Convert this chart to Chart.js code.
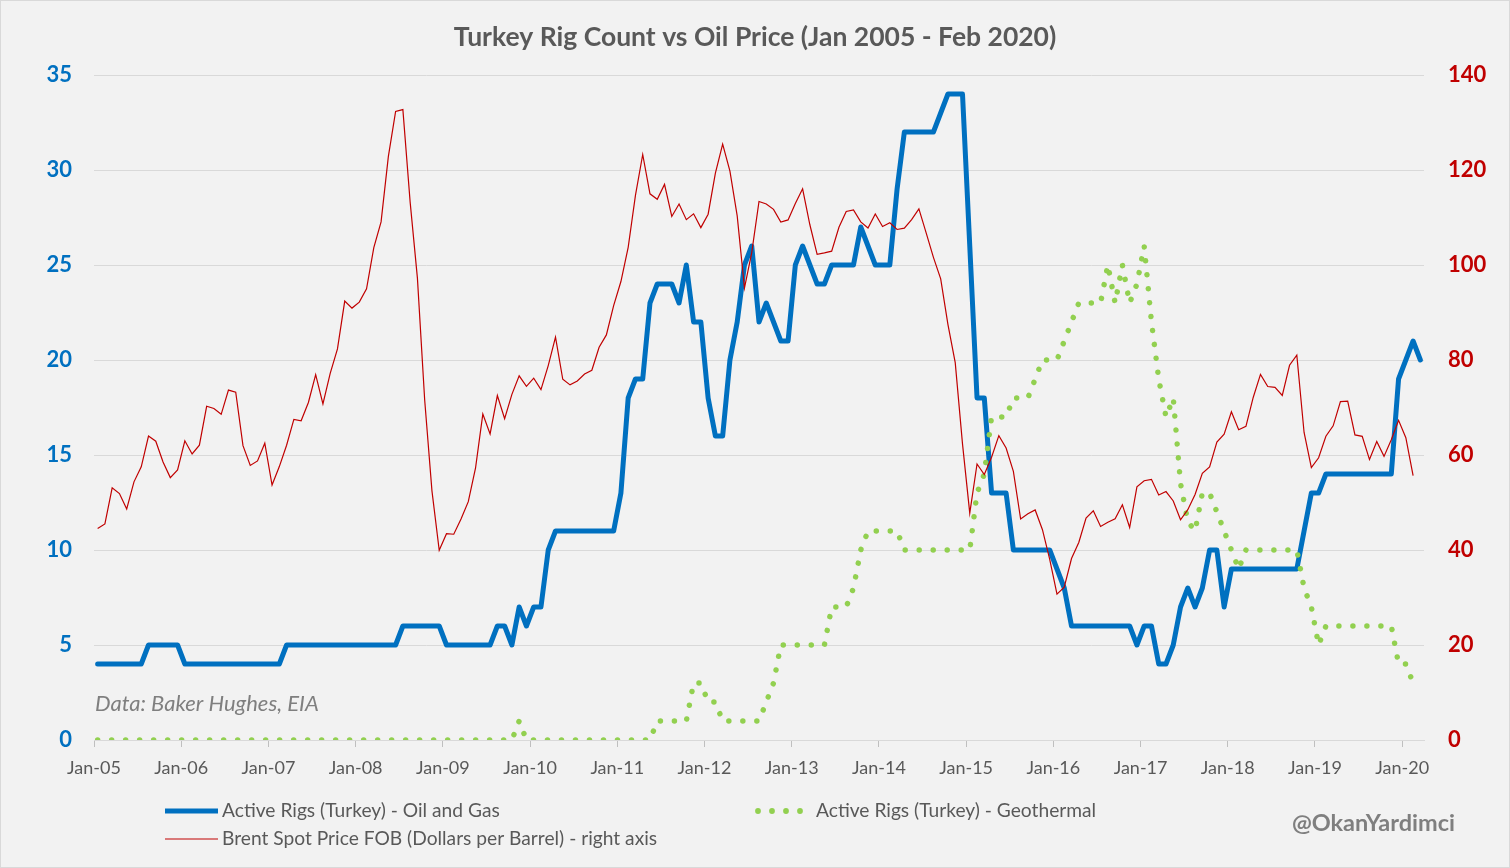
<!DOCTYPE html>
<html><head><meta charset="utf-8">
<script src="https://cdn.jsdelivr.net/npm/chart.js@4.4.0/dist/chart.umd.min.js"></script>
<style>
html,body{margin:0;padding:0;background:#F2F2F2;}
canvas{display:block;}
</style></head><body>
<canvas id="c" width="1510" height="868"></canvas>
<script>
const titleText = 'Turkey Rig Count vs Oil Price (Jan 2005 - Feb 2020)';
const yearLabels = ['Jan-05','Jan-06','Jan-07','Jan-08','Jan-09','Jan-10','Jan-11','Jan-12','Jan-13','Jan-14','Jan-15','Jan-16','Jan-17','Jan-18','Jan-19','Jan-20'];
const seriesNames = ['Active Rigs (Turkey) - Oil and Gas','Active Rigs (Turkey) - Geothermal','Brent Spot Price FOB (Dollars per Barrel) - right axis'];

// monthly, Jan 2005 onwards
const oilGasRigs = [
  4,4,4,4,4,4,4,5,5,5,5,5,
  4,4,4,4,4,4,4,4,4,4,4,4,
  4,4,5,5,5,5,5,5,5,5,5,5,
  5,5,5,5,5,5,6,6,6,6,6,6,
  5,5,5,5,5,5,5,6,6,5,7,6,
  7,7,10,11,11,11,11,11,11,11,11,11,
  13,18,19,19,23,24,24,24,23,25,22,22,
  18,16,16,20,22,25,26,22,23,22,21,21,
  25,26,25,24,24,25,25,25,25,27,26,25,
  25,25,29,32,32,32,32,32,33,34,34,34,
  26,18,18,13,13,13,10,10,10,10,10,10,
  9,8,6,6,6,6,6,6,6,6,6,5,
  6,6,4,4,5,7,8,7,8,10,10,7,
  9,9,9,9,9,9,9,9,9,9,11,13,
  13,14,14,14,14,14,14,14,14,14,14,19,
  20,21,20
];
const geothermalRigs = [
  0,0,0,0,0,0,0,0,0,0,0,0,
  0,0,0,0,0,0,0,0,0,0,0,0,
  0,0,0,0,0,0,0,0,0,0,0,0,
  0,0,0,0,0,0,0,0,0,0,0,0,
  0,0,0,0,0,0,0,0,0,0,1,0,
  0,0,0,0,0,0,0,0,0,0,0,0,
  0,0,0,0,0,1,1,1,1,1,3,3,
  2,2,1,1,1,1,1,1,2,3,5,5,
  5,5,5,5,5,7,7,7,8,10,11,11,
  11,11,11,10,10,10,10,10,10,10,10,10,
  10,13,14,17,17,17,18,18,18,19,20,20,
  20,21,22,23,23,23,23,25,23,25,23,24,
  26,22,19,17,18,13.5,11.5,11,13,13,12,11,
  10,9,10,10,10,10,10,10,10,10,8,7,
  5,6,6,6,6,6,6,6,6,6,6,4,
  4,3,3
];
const brentPrice = [
  44.51,45.48,53.10,51.88,48.65,54.35,57.52,63.98,62.91,58.54,55.24,56.86,
  62.99,60.21,62.06,70.26,69.78,68.56,73.67,73.23,61.96,57.81,58.76,62.47,
  53.68,57.56,62.05,67.49,67.21,71.05,76.93,70.76,77.17,82.34,92.41,90.93,
  92.18,94.99,103.64,109.07,122.80,132.32,132.72,113.24,97.23,71.58,52.45,39.95,
  43.44,43.32,46.54,50.18,57.30,68.61,64.44,72.51,67.65,72.77,76.66,74.46,
  76.17,73.75,78.83,84.82,75.95,74.76,75.58,77.04,77.84,82.67,85.28,91.45,
  96.52,103.72,114.64,123.26,114.99,113.83,116.97,110.22,112.83,109.55,110.77,107.87,
  110.69,119.33,125.45,119.75,110.34,95.16,102.62,113.36,112.86,111.71,109.06,109.49,
  112.96,116.05,108.47,102.25,102.56,102.92,107.93,111.28,111.60,109.08,107.79,110.76,
  108.12,108.90,107.48,107.76,109.54,111.80,106.77,101.61,97.09,87.43,79.44,62.34,
  47.76,58.10,55.89,59.52,64.08,61.48,56.56,46.52,47.62,48.43,44.27,38.01,
  30.70,32.18,38.21,41.58,46.74,48.25,44.95,45.84,46.57,49.52,44.73,53.31,
  54.58,54.87,51.59,52.31,50.33,46.37,48.48,51.70,56.15,57.51,62.71,64.37,
  69.08,65.32,66.02,72.11,76.98,74.41,74.25,72.53,78.89,81.03,64.75,57.36,
  59.41,63.96,66.14,71.23,71.32,64.22,63.92,59.04,62.83,59.71,63.21,67.31,
  63.65,55.66
];
const monthCount = oilGasRigs.length;

const BLUE = '#0070C0', GREEN = '#92D050', RED = '#C00000', GREY = '#595959';
const toPoints = arr => arr.map((v, i) => ({x: i + 0.5, y: v}));

Chart.defaults.font.family = 'Lato, "Open Sans", sans-serif';

const decor = {
  id: 'decor',
  beforeDraw(chart) {
    const c = chart.ctx; c.save();
    c.fillStyle = '#F2F2F2'; c.fillRect(0, 0, chart.width, chart.height);
    c.restore();
  },
  afterDraw(chart) {
    const c = chart.ctx; c.save();
    c.strokeStyle = '#D9D9D9'; c.lineWidth = 1;
    c.strokeRect(0.5, 0.5, chart.width - 1, chart.height - 1);
    // title
    c.fillStyle = GREY; c.font = 'bold 26.5px Lato'; c.textAlign = 'center'; c.textBaseline = 'middle';
    c.fillText(titleText, 755, 37);
    // source note
    c.fillStyle = '#7F7F7F'; c.font = 'italic 22px Lato'; c.textAlign = 'left';
    c.fillText('Data: Baker Hughes, EIA', 95, 704);
    // signature
    c.font = 'bold 23.5px Lato'; c.textAlign = 'right';
    c.fillText('@OkanYardimci', 1455, 823);
    // legend
    c.textAlign = 'left'; c.font = '19.2px Lato'; c.fillStyle = GREY;
    c.lineCap = 'butt';
    c.strokeStyle = BLUE; c.lineWidth = 5;
    c.beginPath(); c.moveTo(165, 811); c.lineTo(218, 811); c.stroke();
    c.fillText(seriesNames[0], 222, 811);
    c.fillStyle = GREEN;
    for (let k = 0; k < 4; k++) { c.beginPath(); c.arc(758 + 14 * k, 811, 2.9, 0, Math.PI * 2); c.fill(); }
    c.fillStyle = GREY;
    c.fillText(seriesNames[1], 816, 811);
    c.strokeStyle = RED; c.lineWidth = 1.2;
    c.beginPath(); c.moveTo(165, 839); c.lineTo(218, 839); c.stroke();
    c.fillText(seriesNames[2], 222, 839);
    c.restore();
  }
};

new Chart(document.getElementById('c'), {
  type: 'line',
  data: {
    datasets: [
      {label: seriesNames[2], data: toPoints(brentPrice), yAxisID: 'y1', borderColor: RED, borderWidth: 1.2, pointRadius: 0, tension: 0, order: 0},
      {label: seriesNames[1], data: toPoints(geothermalRigs), yAxisID: 'y', borderColor: GREEN, borderWidth: 5.5, borderDash: [0.01, 13.99], borderCapStyle: 'round', pointRadius: 0, tension: 0, order: 1},
      {label: seriesNames[0], data: toPoints(oilGasRigs), yAxisID: 'y', borderColor: BLUE, borderWidth: 5, borderJoinStyle: 'round', borderCapStyle: 'round', pointRadius: 0, tension: 0, order: 2}
    ]
  },
  options: {
    responsive: false,
    animation: false,
    devicePixelRatio: 1,
    layout: {padding: {top: 75, left: 0, right: 0, bottom: 0}},
    plugins: {legend: {display: false}, tooltip: {enabled: false}, title: {display: false}},
    scales: {
      x: {
        type: 'linear', min: 0, max: monthCount,
        afterBuildTicks: s => { s.ticks = yearLabels.map((l, k) => ({value: k * 12})); },
        afterFit: s => { s.height = 128; },
        ticks: {autoSkip: false, maxRotation: 0, padding: 10, color: GREY, font: {size: 18},
                callback: v => yearLabels[Math.round(v / 12)]},
        grid: {drawOnChartArea: false, drawTicks: true, tickLength: 7, color: '#BFBFBF'},
        border: {display: true, color: '#D9D9D9'}
      },
      y: {
        position: 'left', min: 0, max: 35,
        afterFit: s => { s.width = 94; },
        ticks: {stepSize: 5, padding: 22, color: BLUE, font: {size: 22, weight: 'bold'}},
        grid: {color: '#D9D9D9', drawTicks: false},
        border: {display: false}
      },
      y1: {
        position: 'right', min: 0, max: 140,
        afterFit: s => { s.width = 86; },
        ticks: {stepSize: 20, padding: 24, color: RED, font: {size: 22, weight: 'bold'}},
        grid: {drawOnChartArea: false, drawTicks: false},
        border: {display: false}
      }
    }
  },
  plugins: [decor]
});
</script>
</body></html>
